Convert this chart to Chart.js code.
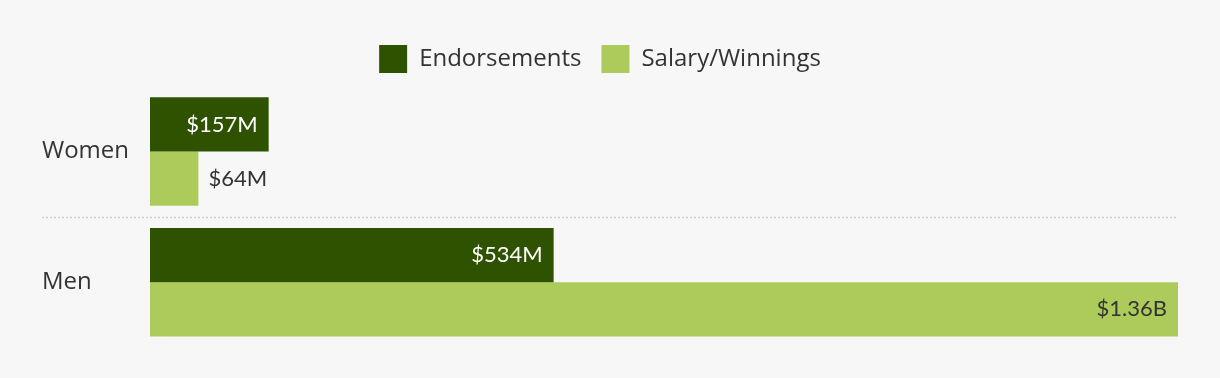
<!DOCTYPE html>
<html lang="en">
<head>
    <meta charset="UTF-8">
    <title>Endorsements vs Salary/Winnings</title>
    <script src="https://cdn.jsdelivr.net/npm/chart.js"></script>
    <style>
        body {
            margin: 0;
            background: #f7f7f7;
        }
        .wrap {
            width: 1220px;
            height: 378px;
        }
    </style>
</head>
<body>
    <div class="wrap"><canvas id="earnings"></canvas></div>
    <script>
        const categories = ['Women', 'Men'];
        const endorsements = [157, 534];
        const salaryWinnings = [64, 1360];
        const valueLabels = [['$157M', '$534M'], ['$64M', '$1.36B']];

        const WORD_FONT = "'Open Sans', Lato, sans-serif";
        const VALUE_FONT = "Lato, 'Open Sans', sans-serif";
        const DARK = '#2f5200';
        const LIGHT = '#adcb5b';

        // tweak the room under the legend
        const legendGap = {
            id: 'legendGap',
            beforeInit(chart) {
                const fit = chart.legend.fit;
                chart.legend.fit = function () {
                    fit.bind(chart.legend)();
                    this.height += 3.2;
                };
            }
        };

        // category names, dotted divider and the value labels on the bars
        const decorations = {
            id: 'decorations',
            afterDatasetsDraw(chart) {
                const ctx = chart.ctx;
                const area = chart.chartArea;
                const yScale = chart.scales.y;
                ctx.save();
                ctx.textBaseline = 'middle';

                // category labels
                ctx.font = '24px ' + WORD_FONT;
                ctx.fillStyle = '#333';
                ctx.textAlign = 'left';
                categories.forEach((c, i) => {
                    ctx.fillText(c, 42, yScale.getPixelForValue(i));
                });

                // divider between groups
                const midY = (yScale.getPixelForValue(0) + yScale.getPixelForValue(1)) / 2;
                ctx.strokeStyle = '#d0d0d0';
                ctx.lineWidth = 1.5;
                ctx.setLineDash([2, 2]);
                ctx.beginPath();
                ctx.moveTo(42, Math.round(midY) + 0.5);
                ctx.lineTo(area.right, Math.round(midY) + 0.5);
                ctx.stroke();
                ctx.setLineDash([]);

                // bar values
                ctx.font = '22px ' + VALUE_FONT;
                chart.data.datasets.forEach((ds, di) => {
                    chart.getDatasetMeta(di).data.forEach((bar, i) => {
                        const txt = valueLabels[di][i];
                        const w = ctx.measureText(txt).width;
                        const len = bar.x - bar.base;
                        if (len > w + 24) {
                            ctx.textAlign = 'right';
                            ctx.fillStyle = di === 0 ? '#fff' : '#333';
                            ctx.fillText(txt, bar.x - 11, bar.y);
                        } else {
                            ctx.textAlign = 'left';
                            ctx.fillStyle = '#333';
                            ctx.fillText(txt, bar.x + 10, bar.y);
                        }
                    });
                });
                ctx.restore();
            }
        };

        new Chart(document.getElementById('earnings'), {
            type: 'bar',
            data: {
                labels: categories,
                datasets: [
                    {
                        label: 'Endorsements',
                        data: endorsements,
                        backgroundColor: DARK,
                        categoryPercentage: 0.83,
                        barPercentage: 1
                    },
                    {
                        label: 'Salary/Winnings',
                        data: salaryWinnings,
                        backgroundColor: LIGHT,
                        categoryPercentage: 0.83,
                        barPercentage: 1
                    }
                ]
            },
            options: {
                indexAxis: 'y',
                responsive: true,
                maintainAspectRatio: false,
                animation: false,
                layout: {
                    padding: { left: 22, right: 42, top: 25, bottom: 30.5 }
                },
                plugins: {
                    legend: {
                        position: 'top',
                        labels: {
                            color: '#333',
                            font: { family: WORD_FONT, size: 24 },
                            boxWidth: 28,
                            boxHeight: 28,
                            padding: 20
                        }
                    },
                    tooltip: { enabled: false }
                },
                scales: {
                    x: { display: false, min: 0, max: 1360 },
                    y: {
                        grid: { display: false },
                        border: { display: false },
                        ticks: { display: false },
                        afterFit(scale) { scale.width = 128; }
                    }
                }
            },
            plugins: [legendGap, decorations]
        });
    </script>
</body>
</html>
